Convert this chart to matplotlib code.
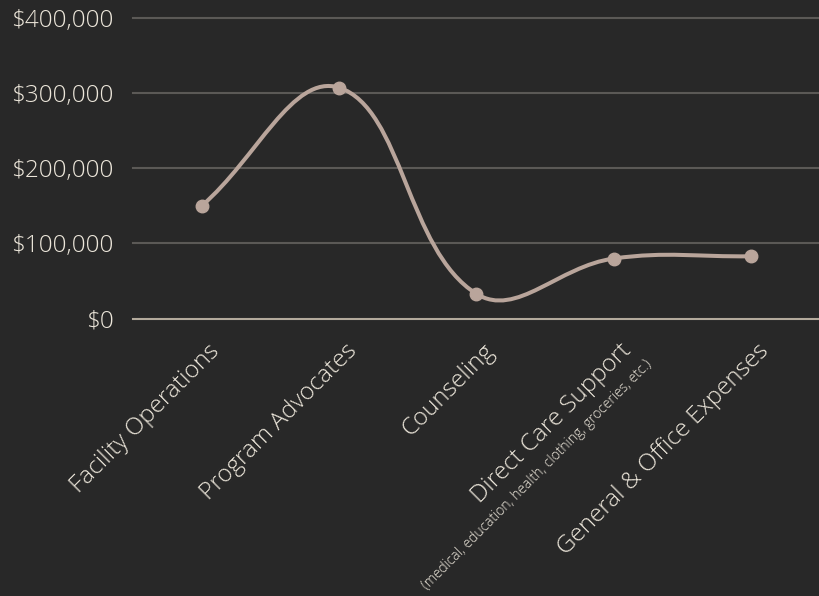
import matplotlib
matplotlib.use("Agg")
import matplotlib.pyplot as plt
import matplotlib.transforms as mtransforms
from matplotlib.path import Path
from matplotlib.patches import PathPatch
import numpy as np

# data
categories = ["Facility Operations", "Program Advocates", "Counseling",
              "Direct Care Support", "General & Office Expenses"]
subtitles = ["", "", "", "(medical, education, health, clothing, groceries, etc.)", ""]
amounts = [150000, 307000, 33000, 80000, 83000]
y_ticks = [0, 100000, 200000, 300000, 400000]

bg = "#282828"
line_color = "#b9a59b"
text_color = "#ece6da"
grid_color = "#5b5956"
zero_color = "#b3aa9c"

plt.rcParams['font.family'] = ['Open Sans', 'DejaVu Sans']

fig = plt.figure(figsize=(8.2, 5.96), dpi=100, facecolor=bg)
ax = fig.add_axes([133 / 820, 1 - 318.7 / 596, 1 - 133 / 820, (318.7 - 17.7) / 596])
ax.set_facecolor(bg)
ax.set_xlim(-0.5, len(categories) - 0.5)
ax.set_ylim(0, 400000)
ax.set_yticks(y_ticks)
ax.set_yticklabels([f"${v:,.0f}" for v in y_ticks])
ax.tick_params(axis='y', length=0, pad=14, labelsize=17.5, labelcolor=text_color)
for lbl in ax.get_yticklabels():
    lbl.set_fontweight('light')
ax.set_xticks([])
for s in ax.spines.values():
    s.set_visible(False)

# gridlines
for v in y_ticks[1:]:
    ax.axhline(v, color=grid_color, lw=1.5, zorder=1, clip_on=False)
ax.axhline(0, color=zero_color, lw=1.5, zorder=1, clip_on=False)

# smooth curve (cardinal style spline, tension 0.4) computed in pixel space
xs = np.arange(len(categories))
pts = ax.transData.transform(np.column_stack([xs, amounts]))
tension = 0.4
ctrl_prev = pts.copy()
ctrl_next = pts.copy()
for i in range(len(pts)):
    prev = pts[i - 1] if i > 0 else pts[i]
    nxt = pts[i + 1] if i < len(pts) - 1 else pts[i]
    d01 = np.hypot(*(pts[i] - prev))
    d12 = np.hypot(*(nxt - pts[i]))
    tot = d01 + d12
    s01 = d01 / tot if tot else 0
    s12 = d12 / tot if tot else 0
    ctrl_prev[i] = pts[i] - tension * s01 * (nxt - prev)
    ctrl_next[i] = pts[i] + tension * s12 * (nxt - prev)

verts = [pts[0]]
codes = [Path.MOVETO]
for i in range(1, len(pts)):
    verts += [ctrl_next[i - 1], ctrl_prev[i], pts[i]]
    codes += [Path.CURVE4] * 3
verts = ax.transData.inverted().transform(np.array(verts))
ax.add_patch(PathPatch(Path(verts, codes), facecolor='none', edgecolor=line_color,
                       lw=2.9, zorder=3, capstyle='round', joinstyle='round'))
ax.plot(xs, amounts, 'o', ms=9, color=line_color, zorder=4, clip_on=False)

# rotated category labels
main_off = mtransforms.ScaledTranslation(14 / 100, -29 / 100, fig.dpi_scale_trans)
sub_off = mtransforms.ScaledTranslation(36 / 100, -44 / 100, fig.dpi_scale_trans)
for i, (cat, sub) in enumerate(zip(categories, subtitles)):
    ax.text(i, 0, cat, transform=ax.get_xaxis_transform() + main_off,
            rotation=45, rotation_mode='anchor', ha='right', va='center',
            fontsize=17.5, fontweight='light', color=text_color)
    if sub:
        ax.text(i, 0, sub, transform=ax.get_xaxis_transform() + sub_off,
                rotation=45, rotation_mode='anchor', ha='right', va='center',
                fontsize=10, fontweight='light', color=text_color)

fig.savefig("out.png", dpi=100, facecolor=bg)
